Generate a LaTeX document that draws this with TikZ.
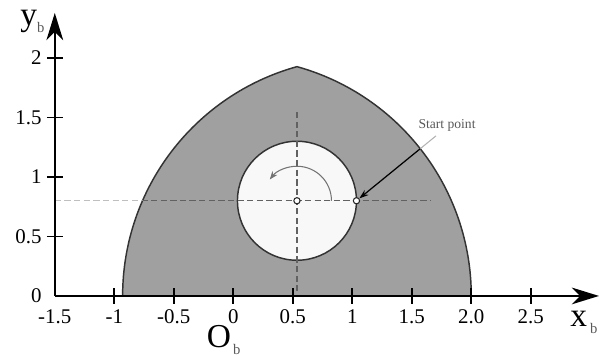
\documentclass[tikz,border=0pt]{standalone}
\usepackage{fontspec}
\setmainfont{Liberation Serif}
\usetikzlibrary{arrows.meta}
\definecolor{regionfill}{RGB}{160,160,160}
\definecolor{holefill}{RGB}{248,248,248}
\newcommand\AxisLab[3]{{\fontsize{16}{16}\selectfont #1}\hspace{#3}\raisebox{-3.3pt}{\color{black!65}\fontsize{7}{7}\selectfont #2}}
\begin{document}
\begin{tikzpicture}[x=2cm,y=2cm,
 axisline/.style={line width=0.9pt, -{Stealth[length=13pt,width=8pt,inset=4pt]}},
 tickline/.style={line width=0.8pt},
 ticklabel/.style={inner sep=0pt, font=\fontsize{10}{12}\selectfont},
 outline/.style={draw=black!80, line width=0.7pt},
 dashlight/.style={draw=black!25, line width=0.7pt, dash pattern=on 3pt off 1.6pt},
 dashdark/.style={draw=black!62, line width=0.7pt, dash pattern=on 3pt off 1.6pt},
 pointmark/.style={circle, draw=black!85, fill=white, line width=0.5pt, inner sep=0pt, minimum size=3pt},
 axislabel/.style={inner sep=0pt, anchor=base west}
]
\useasboundingbox (-1.9605,-0.504) rectangle (3.0815,2.487);
% region
\fill[regionfill] (-0.93,0) arc[start angle=180,end angle=105.52,radius=2]
  arc[start angle=74.48,end angle=0,radius=2] -- cycle;
\draw[outline] (-0.93,0) arc[start angle=180,end angle=105.52,radius=2]
  arc[start angle=74.48,end angle=0,radius=2];
% hole
\node[circle, minimum size=2cm, inner sep=0pt, fill=holefill, outline] (hole) at (0.535,0.8) {};
% dashed lines
\coordinate (hl) at (-1.5,0.8);
\coordinate (hr) at (1.661,0.8);
\coordinate (vt) at (0.535,1.546);
\coordinate (vb) at (0.535,0);
\draw[dashlight] (hl) -- (hr);
\begin{scope}
\clip (-0.93,0) arc[start angle=180,end angle=105.52,radius=2]
  arc[start angle=74.48,end angle=0,radius=2] -- cycle;
\draw[dashdark] (hl) -- (hr);
\end{scope}
\draw[dashdark] (vt) -- (vb);
% points
\node[pointmark] (cp) at (0.535,0.8) {};
\node[pointmark] (sp) at (1.035,0.8) {};
% rotation arrow
\draw[black!55, line width=0.5pt, -{Stealth[length=4pt,width=3pt]}]
  ([shift={(0.29,0)}]cp.center) arc[start angle=0,end angle=142,radius=0.29];
% axes
\coordinate (O) at (-1.5,0);
\coordinate (xend) at (3.073,0);
\coordinate (yend) at (-1.5,2.378);
\draw[axisline] (O) -- (xend);
\draw[axisline] (O) -- (yend);
\foreach \v in {-1,-0.5,0,0.5,1,1.5,2,2.5} \draw[tickline] (\v,-0.067) -- (\v,0.067);
\foreach \v in {0.5,1,1.5,2} \draw[tickline] (-1.567,\v) -- (-1.433,\v);
\foreach \v/\t [count=\i] in {-1.5/-1.5,-1/-1,-0.5/-0.5,0/0,0.5/0.5,1/1,1.5/1.5,2/2.0,2.5/2.5}
  \node[ticklabel, anchor=base] (xt\i) at (\v,-0.235) {\t};
\foreach \v [count=\i] in {0,0.5,1,1.5,2}
  \node[ticklabel, anchor=east] (yt\i) at (-1.608,\v) {\v};
\node[axislabel] (ylab) at (-1.792,2.269) {\AxisLab{y}{b}{0pt}};
\node[axislabel] (xlab) at (2.829,-0.2605) {\AxisLab{x}{b}{1.5pt}};
\node[axislabel] (olab) at (-0.225,-0.432) {\AxisLab{O}{b}{1pt}};
% start point label
\node[inner sep=0pt, text=black!65, font=\fontsize{6.5}{8}\selectfont] (splab) at (1.796,1.429) {Start point};
\coordinate (lead) at (1.703,1.345);
\draw[black!30, line width=0.5pt] (lead) -- (sp);
\begin{scope}
\clip (-0.93,0) arc[start angle=180,end angle=105.52,radius=2]
  arc[start angle=74.48,end angle=0,radius=2] -- cycle;
\draw[black, line width=0.6pt, -{Stealth[length=4.5pt,width=3pt]}] (lead) -- (sp);
\end{scope}
\end{tikzpicture}
\end{document}
